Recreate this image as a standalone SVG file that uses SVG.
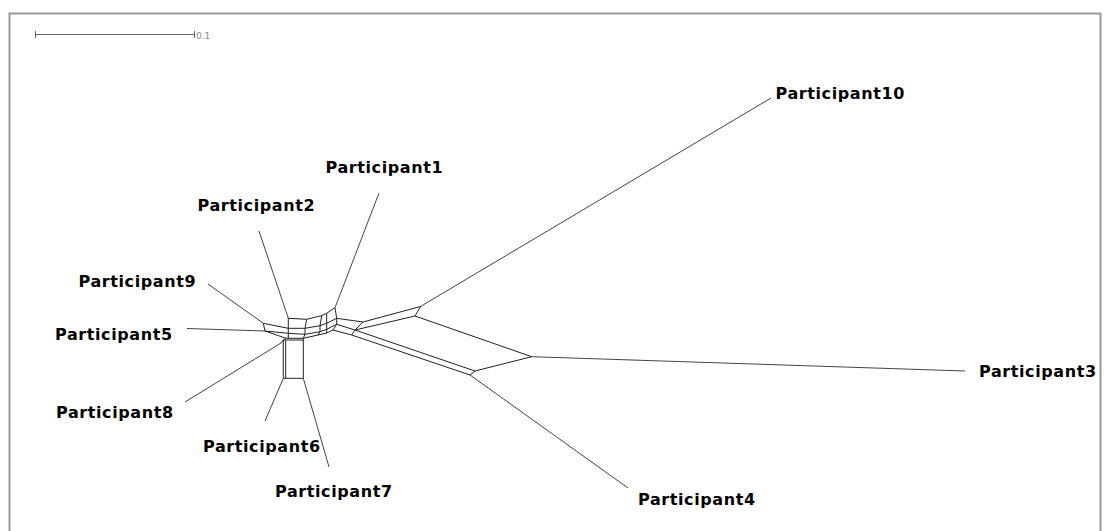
<svg xmlns="http://www.w3.org/2000/svg" width="1108" height="531" viewBox="0 0 1108 531">
<style>
.lbl{font-family:"DejaVu Sans",sans-serif;font-weight:bold;font-size:16px;letter-spacing:0.6px;fill:#000}
.e{stroke:#222;stroke-width:1;fill:none}
.p{stroke:#444;stroke-width:1;fill:none}
</style>
<rect x="0" y="0" width="1108" height="531" fill="#fff"/>
<rect x="9.5" y="13.5" width="1091" height="520" fill="none" stroke="#999" stroke-width="2"/>
<g id="scale">
<line x1="35" y1="34.5" x2="194" y2="34.5" stroke="#666"/>
<line x1="35.5" y1="31" x2="35.5" y2="38" stroke="#666"/>
<line x1="194.5" y1="31" x2="194.5" y2="38" stroke="#666"/>
<text x="196" y="39" font-family="DejaVu Sans,sans-serif" font-size="9" fill="#888">0.1</text>
</g>
<g id="connectors">
<path class="p" d="M771,98 L420.5,306.5"/>
<path class="p" d="M965,371 L531.7,356.7"/>
<path class="p" d="M628,488 L470,375"/>
<path class="p" d="M379,193 L335,307.7"/>
<path class="p" d="M259,231 L288.3,318.3"/>
<path class="p" d="M208,284 L263.3,323.3"/>
<path class="p" d="M187,328.5 L265,331"/>
<path class="p" d="M185,402 L281,343"/>
<path class="p" d="M265,421 L283.3,378.3"/>
<path class="p" d="M329,467 L303.3,378.3"/>
<path class="e" d="M363,322 L420.5,306.5 L415,316 L355,330 Z"/>
<path class="e" d="M415,316 L531.7,356.7 L475,371 L355,330"/>
<path class="e" d="M355,330 L351.7,335 L470,375 L475,371"/>
<path class="e" d="M288.3,318.3 L306.7,319.3 L321.7,315.7 L326.7,313.3 L335,307.7 M288.3,328.3 L305,328.3 L320,325.7 L326.7,323.3 L336.7,318.3 M288.3,333.3 L305,334.3 L320,331.7 L326.7,329.3 L336.7,324.3 M286,338.3 L303.3,338.3 L318,335 L326.7,333"/>
<path class="e" d="M288.3,318.3 L288.3,338.3 M306.7,319.3 L305,328.3 L305,334.3 L303.3,338.3 M321.7,315.7 L320,325.7 L320,331.7 L318,335 M326.7,313.3 L326.7,333 M335,307.7 L336.7,318.3 L336.7,324.3 L333,330"/>
<path class="e" d="M336.7,318.3 L363,322 M336.7,324.3 L355,330 M333,330 L351.7,335 M326.7,333 L333,330"/>
<path class="e" d="M263.3,323.3 L265,331 M263.3,323.3 L288.3,328.3 M265,331 L288.3,333.3 M265,331 L286,338.3"/>
<path class="e" d="M286,338.3 L283.3,340 M303.3,338.3 L303.3,340 M281,343 L283.3,340"/>
<path class="e" d="M283.3,340 L303.3,340 L303.3,378.3 L283.3,378.3 Z M285.7,340 L285.7,378.3"/>
</g>
<g id="n1"><text class="lbl" x="325.5" y="173">Participant1</text></g>
<g id="n2"><text class="lbl" x="197.5" y="211">Participant2</text></g>
<g id="n9"><text class="lbl" x="78.5" y="287">Participant9</text></g>
<g id="n5"><text class="lbl" x="55" y="340">Participant5</text></g>
<g id="n8"><text class="lbl" x="56" y="418">Participant8</text></g>
<g id="n6"><text class="lbl" x="203" y="452">Participant6</text></g>
<g id="n7"><text class="lbl" x="275" y="497">Participant7</text></g>
<g id="n10"><text class="lbl" x="775.5" y="99">Participant10</text></g>
<g id="n3"><text class="lbl" x="979" y="377">Participant3</text></g>
<g id="n4"><text class="lbl" x="638" y="505">Participant4</text></g>
</svg>
